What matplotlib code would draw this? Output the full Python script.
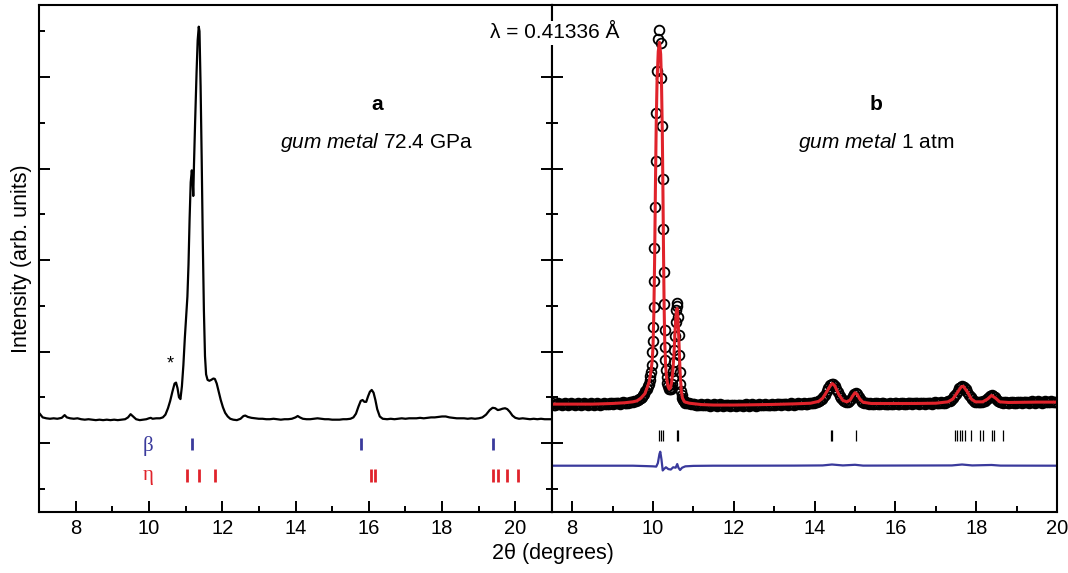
import matplotlib
matplotlib.use("Agg")
import matplotlib.pyplot as plt
from matplotlib.ticker import MultipleLocator, NullFormatter

plt.rcParams['font.family'] = ['Liberation Sans', 'DejaVu Sans']
plt.rcParams['mathtext.fontset'] = 'custom'
plt.rcParams['mathtext.rm'] = 'Liberation Sans'
plt.rcParams['mathtext.it'] = 'Liberation Sans:italic'
plt.rcParams['mathtext.bf'] = 'Liberation Sans:bold'

# ---------------- panel a: gum metal 72.4 GPa ----------------
a_x = [7.00, 7.10, 7.20, 7.30, 7.40, 7.50, 7.62, 7.70, 7.76, 7.85, 7.95, 8.05, 8.15, 8.25,
       8.35, 8.45, 8.55, 8.65, 8.75, 8.85, 8.95, 9.05, 9.15, 9.25, 9.35, 9.43, 9.50, 9.57,
       9.65, 9.75, 9.85, 9.93, 10.00, 10.05, 10.10, 10.20, 10.30, 10.38, 10.45, 10.52, 10.58,
       10.64, 10.70, 10.74, 10.78, 10.82, 10.86, 10.90, 10.94, 10.98, 11.02, 11.05, 11.08,
       11.11, 11.14, 11.17, 11.19, 11.21, 11.23, 11.26, 11.30, 11.33, 11.36, 11.38, 11.41,
       11.44, 11.47, 11.50, 11.53, 11.56, 11.60, 11.65, 11.70, 11.76, 11.80, 11.85, 11.90,
       11.96, 12.02, 12.08, 12.15, 12.22, 12.30, 12.40, 12.50, 12.58, 12.63, 12.70, 12.80,
       12.90, 13.00, 13.10, 13.20, 13.30, 13.40, 13.50, 13.60, 13.70, 13.80, 13.90, 14.00,
       14.06, 14.12, 14.20, 14.30, 14.40, 14.50, 14.60, 14.70, 14.80, 14.90, 15.00, 15.10,
       15.20, 15.30, 15.40, 15.50, 15.58, 15.65, 15.72, 15.78, 15.83, 15.88, 15.93, 15.98,
       16.03, 16.08, 16.13, 16.18, 16.23, 16.30, 16.38, 16.50, 16.60, 16.70, 16.80, 16.90,
       17.00, 17.10, 17.20, 17.30, 17.40, 17.50, 17.60, 17.70, 17.80, 17.90, 18.00, 18.10,
       18.20, 18.30, 18.40, 18.50, 18.60, 18.70, 18.80, 18.90, 19.00, 19.10, 19.20, 19.30,
       19.38, 19.45, 19.52, 19.58, 19.65, 19.72, 19.78, 19.85, 19.92, 20.00, 20.10, 20.20,
       20.30, 20.40, 20.50, 20.60, 20.70, 20.80, 20.90, 21.00]
a_y = [1.33, 1.28, 1.27, 1.265, 1.27, 1.265, 1.275, 1.305, 1.28, 1.27, 1.265, 1.27, 1.26, 1.255,
       1.26, 1.255, 1.25, 1.255, 1.25, 1.255, 1.25, 1.255, 1.25, 1.255, 1.26, 1.28, 1.315, 1.29,
       1.26, 1.25, 1.255, 1.26, 1.27, 1.275, 1.265, 1.27, 1.27, 1.28, 1.31, 1.38, 1.46,
       1.56, 1.65, 1.66, 1.60, 1.50, 1.48, 1.62, 1.85, 2.15, 2.40, 2.60, 2.95,
       3.45, 3.85, 3.98, 3.90, 3.70, 4.05, 4.50, 5.05, 5.40, 5.55, 5.50, 4.90,
       4.10, 3.20, 2.45, 1.95, 1.75, 1.69, 1.68, 1.69, 1.705, 1.70, 1.65, 1.57,
       1.47, 1.39, 1.33, 1.29, 1.265, 1.255, 1.25, 1.265, 1.295, 1.30, 1.285, 1.275,
       1.27, 1.265, 1.265, 1.26, 1.26, 1.265, 1.26, 1.255, 1.26, 1.26, 1.265, 1.28,
       1.295, 1.28, 1.265, 1.26, 1.26, 1.265, 1.27, 1.265, 1.26, 1.26, 1.255, 1.255,
       1.255, 1.26, 1.26, 1.265, 1.28, 1.32, 1.40, 1.46, 1.47, 1.45, 1.45, 1.51,
       1.56, 1.58, 1.55, 1.47, 1.37, 1.29, 1.265, 1.26, 1.265, 1.26, 1.265, 1.27,
       1.265, 1.27, 1.27, 1.27, 1.275, 1.27, 1.275, 1.28, 1.28, 1.285, 1.29, 1.29,
       1.28, 1.275, 1.27, 1.27, 1.27, 1.265, 1.27, 1.265, 1.27, 1.28, 1.31, 1.36,
       1.385, 1.38, 1.36, 1.365, 1.375, 1.38, 1.37, 1.34, 1.30, 1.275, 1.265, 1.27,
       1.265, 1.26, 1.265, 1.26, 1.265, 1.26, 1.26, 1.26]

beta_pos = [11.17, 15.80, 19.40]
eta_pos = [11.05, 11.38, 11.80, 16.05, 16.18, 19.40, 19.53, 19.76, 20.06]

# ---------------- panel b: gum metal 1 atm (observed points) ----------------
obs_x = [
    7.50, 7.54, 7.58, 7.62, 7.66, 7.70, 7.74, 7.78, 7.82, 7.86,
    7.90, 7.94, 7.98, 8.02, 8.06, 8.10, 8.14, 8.18, 8.22, 8.26,
    8.30, 8.34, 8.38, 8.42, 8.46, 8.50, 8.54, 8.58, 8.62, 8.66,
    8.70, 8.74, 8.78, 8.82, 8.86, 8.90, 8.94, 8.98, 9.02, 9.06,
    9.10, 9.14, 9.18, 9.22, 9.26, 9.30, 9.34, 9.38, 9.42, 9.46,
    9.50, 9.54, 9.58, 9.62, 9.66, 9.70,
    9.72, 9.75, 9.78, 9.81, 9.84, 9.87, 9.895, 9.915, 9.935, 9.955,
    9.970, 9.985, 9.995, 10.005, 10.015, 10.025, 10.035, 10.048, 10.062, 10.080,
    10.100, 10.125, 10.155, 10.190, 10.210, 10.228, 10.242, 10.254, 10.265, 10.275,
    10.285, 10.295, 10.305, 10.318, 10.335, 10.355, 10.375, 10.395, 10.415, 10.435,
    10.455, 10.47, 10.485, 10.50, 10.515, 10.53, 10.545, 10.56, 10.575, 10.59,
    10.605, 10.62, 10.635, 10.65, 10.665, 10.68, 10.695, 10.71, 10.725, 10.74,
    10.76, 10.78, 10.80, 10.83, 10.86,
    10.90, 10.94, 10.98, 11.02, 11.06, 11.10, 11.14, 11.18, 11.22, 11.26,
    11.30, 11.34, 11.38, 11.42, 11.46, 11.50, 11.54, 11.58, 11.62, 11.66,
    11.70, 11.74, 11.78, 11.82, 11.86, 11.90, 11.94, 11.98, 12.02, 12.06,
    12.10, 12.14, 12.18, 12.22, 12.26, 12.30, 12.34, 12.38, 12.42, 12.46,
    12.50, 12.54, 12.58, 12.62, 12.66, 12.70, 12.74, 12.78, 12.82, 12.86,
    12.90, 12.94, 12.98, 13.02, 13.06, 13.10, 13.14, 13.18, 13.22, 13.26,
    13.30, 13.34, 13.38, 13.42, 13.46, 13.50, 13.54, 13.58, 13.62, 13.66,
    13.70, 13.74, 13.78, 13.82, 13.86, 13.90, 13.94, 13.98, 14.02, 14.06,
    14.10, 14.14, 14.18, 14.22, 14.26, 14.30, 14.34, 14.38, 14.42, 14.46,
    14.50, 14.54, 14.58, 14.62, 14.66, 14.70, 14.74, 14.78, 14.82, 14.86,
    14.90, 14.94, 14.98, 15.02, 15.06, 15.10, 15.14, 15.18, 15.22, 15.26,
    15.30, 15.34, 15.38, 15.42, 15.46, 15.50, 15.54, 15.58, 15.62, 15.66,
    15.70, 15.74, 15.78, 15.82, 15.86, 15.90, 15.94, 15.98, 16.02, 16.06,
    16.10, 16.14, 16.18, 16.22, 16.26, 16.30, 16.34, 16.38, 16.42, 16.46,
    16.50, 16.54, 16.58, 16.62, 16.66, 16.70, 16.74, 16.78, 16.82, 16.86,
    16.90, 16.94, 16.98, 17.02, 17.06, 17.10, 17.14, 17.18, 17.22, 17.26,
    17.30, 17.34, 17.38, 17.42, 17.46, 17.50, 17.54, 17.58, 17.62, 17.66,
    17.70, 17.74, 17.78, 17.82, 17.86, 17.90, 17.94, 17.98, 18.02, 18.06,
    18.10, 18.14, 18.18, 18.22, 18.26, 18.30, 18.34, 18.38, 18.42, 18.46,
    18.50, 18.54, 18.58, 18.62, 18.66, 18.70, 18.74, 18.78, 18.82, 18.86,
    18.90, 18.94, 18.98, 19.02, 19.06, 19.10, 19.14, 19.18, 19.22, 19.26,
    19.30, 19.34, 19.38, 19.42, 19.46, 19.50, 19.54, 19.58, 19.62, 19.66,
    19.70, 19.74, 19.78, 19.82, 19.86, 19.90, 19.94, 19.98]
obs_y = [
    1.432, 1.420, 1.415, 1.428, 1.436, 1.424, 1.418, 1.430, 1.438, 1.426,
    1.418, 1.422, 1.433, 1.428, 1.417, 1.423, 1.435, 1.429, 1.419, 1.425,
    1.434, 1.422, 1.416, 1.427, 1.437, 1.428, 1.420, 1.426, 1.433, 1.424,
    1.418, 1.429, 1.438, 1.430, 1.422, 1.428, 1.436, 1.432, 1.425, 1.433,
    1.440, 1.434, 1.428, 1.436, 1.443, 1.438, 1.435, 1.442, 1.448, 1.446,
    1.452, 1.458, 1.463, 1.468, 1.478, 1.490,
    1.50, 1.52, 1.54, 1.565, 1.59, 1.62, 1.65, 1.69, 1.73, 1.78,
    1.85, 1.99, 2.11, 2.27, 2.49, 2.77, 3.13, 3.58, 4.08, 4.61,
    5.07, 5.41, 5.51, 5.37, 4.99, 4.46, 3.88, 3.34, 2.87, 2.52,
    2.24, 2.05, 1.91, 1.80, 1.72, 1.66, 1.62, 1.595, 1.585, 1.59,
    1.61, 1.65, 1.71, 1.79, 1.89, 2.02, 2.17, 2.32, 2.45, 2.53,
    2.50, 2.38, 2.18, 1.96, 1.78, 1.65, 1.57, 1.52, 1.49, 1.47,
    1.455, 1.447, 1.442, 1.438, 1.436,
    1.436, 1.430, 1.424, 1.428, 1.418, 1.412, 1.420, 1.426, 1.416, 1.410,
    1.418, 1.425, 1.415, 1.408, 1.416, 1.422, 1.412, 1.406, 1.414, 1.421,
    1.413, 1.407, 1.415, 1.420, 1.410, 1.404, 1.412, 1.419, 1.411, 1.405,
    1.413, 1.420, 1.412, 1.406, 1.414, 1.421, 1.414, 1.408, 1.416, 1.423,
    1.415, 1.409, 1.417, 1.424, 1.416, 1.411, 1.419, 1.426, 1.418, 1.412,
    1.420, 1.427, 1.419, 1.414, 1.422, 1.429, 1.421, 1.416, 1.424, 1.431,
    1.423, 1.418, 1.426, 1.433, 1.425, 1.420, 1.428, 1.435, 1.427, 1.422,
    1.430, 1.437, 1.429, 1.425, 1.433, 1.440, 1.436, 1.438, 1.445, 1.450,
    1.458, 1.468, 1.482, 1.502, 1.530, 1.565, 1.600, 1.630, 1.650, 1.648,
    1.628, 1.595, 1.555, 1.518, 1.488, 1.466, 1.454, 1.450, 1.452, 1.462,
    1.482, 1.512, 1.540, 1.550, 1.532, 1.500, 1.470, 1.452, 1.442, 1.438,
    1.432, 1.428, 1.436, 1.430, 1.425, 1.433, 1.438, 1.429, 1.424, 1.432,
    1.437, 1.428, 1.423, 1.431, 1.437, 1.429, 1.424, 1.432, 1.438, 1.430,
    1.425, 1.433, 1.439, 1.431, 1.426, 1.434, 1.440, 1.432, 1.427, 1.435,
    1.440, 1.432, 1.427, 1.435, 1.441, 1.433, 1.428, 1.436, 1.442, 1.434,
    1.429, 1.437, 1.443, 1.436, 1.432, 1.440, 1.446, 1.442, 1.440, 1.448,
    1.455, 1.462, 1.472, 1.488, 1.510, 1.540, 1.572, 1.598, 1.615, 1.620,
    1.612, 1.592, 1.562, 1.530, 1.500, 1.478, 1.462, 1.452, 1.448, 1.446,
    1.450, 1.448, 1.455, 1.462, 1.476, 1.495, 1.512, 1.522, 1.515, 1.498,
    1.478, 1.462, 1.452, 1.446, 1.440, 1.444, 1.449, 1.441, 1.436, 1.444,
    1.450, 1.442, 1.437, 1.445, 1.451, 1.443, 1.438, 1.446, 1.452, 1.444,
    1.440, 1.448, 1.454, 1.446, 1.441, 1.449, 1.455, 1.447, 1.442, 1.450,
    1.456, 1.448, 1.443, 1.451, 1.457, 1.449, 1.444, 1.452]

# calculated profile
calc_x = [7.5, 8.0, 8.5, 9.0, 9.3, 9.5, 9.6, 9.7, 9.8, 9.9, 9.95, 9.98, 10.0, 10.02, 10.04,
          10.06, 10.08, 10.10, 10.13, 10.16, 10.19, 10.21, 10.23, 10.245, 10.26, 10.275,
          10.29, 10.31, 10.335, 10.37, 10.40, 10.43, 10.46, 10.49, 10.52, 10.55, 10.575,
          10.595, 10.615, 10.64, 10.67, 10.70, 10.73, 10.78, 10.9, 11.2, 11.5, 12.0, 12.5,
          13.0, 13.5, 13.9, 14.1, 14.2, 14.3, 14.4, 14.44, 14.5, 14.6, 14.7, 14.8, 14.88,
          14.95, 15.0, 15.05, 15.12, 15.2, 15.4, 16.0, 16.5, 17.0, 17.3, 17.42, 17.53, 17.63,
          17.68, 17.78, 17.88, 17.98, 18.16, 18.28, 18.38, 18.48, 18.58, 18.8, 19.5, 20.0]
calc_y = [1.425, 1.425, 1.425, 1.432, 1.44, 1.45, 1.46, 1.49, 1.54, 1.66, 1.78, 1.90, 2.05, 2.40, 3.00,
          3.80, 4.50, 4.95, 5.28, 5.38, 5.25, 4.95, 4.40, 3.80, 3.10, 2.50,
          2.12, 1.86, 1.72, 1.62, 1.59, 1.60, 1.66, 1.78, 1.98, 2.26, 2.43,
          2.47, 2.38, 2.13, 1.78, 1.57, 1.49, 1.45, 1.435, 1.42, 1.415, 1.415, 1.418,
          1.422, 1.428, 1.435, 1.455, 1.49, 1.56, 1.635, 1.65, 1.625, 1.53, 1.465, 1.45, 1.47,
          1.52, 1.55, 1.535, 1.48, 1.445, 1.432, 1.432, 1.432, 1.435, 1.45, 1.48, 1.55, 1.615,
          1.62, 1.56, 1.48, 1.45, 1.45, 1.48, 1.52, 1.49, 1.45, 1.443, 1.447, 1.447]

# difference curve
diff_x = [7.5, 8.5, 9.5, 9.8, 10.0, 10.08, 10.12, 10.16, 10.18, 10.21, 10.24, 10.27, 10.32,
          10.38, 10.44, 10.5, 10.56, 10.6, 10.63, 10.67, 10.72, 10.8, 11.0, 11.5, 12.0, 13.5,
          14.2, 14.43, 14.7, 15.0, 15.2, 17.4, 17.65, 17.9, 18.38, 18.6, 20.0]
diff_y = [0.752, 0.752, 0.752, 0.748, 0.745, 0.742, 0.78, 0.88, 0.905, 0.82, 0.70, 0.715, 0.735,
          0.715, 0.71, 0.735, 0.73, 0.77, 0.73, 0.705, 0.73, 0.745, 0.75, 0.752, 0.752, 0.753,
          0.755, 0.765, 0.755, 0.762, 0.753, 0.755, 0.765, 0.755, 0.76, 0.753, 0.752]

refl_pos = [10.14, 10.19, 10.24, 10.60, 10.63, 14.40, 14.44, 15.02, 17.47, 17.53, 17.60,
            17.66, 17.73, 17.86, 18.09, 18.17, 18.38, 18.44, 18.67]

BLUE = '#3a3a9c'
RED = '#e0232b'

fig = plt.figure(figsize=(10.68, 5.73), dpi=100)
W, H = 1068.0, 573.0
ax1 = fig.add_axes([39 / W, 61 / H, 513 / W, 507 / H])
ax2 = fig.add_axes([552 / W, 61 / H, 505 / W, 507 / H])

ylim = (0.246, 5.787)

# panel a
ax1.plot(a_x, a_y, color='black', lw=1.6)
ax1.vlines(beta_pos, 0.92, 1.06, color=BLUE, lw=2.0)
ax1.vlines(eta_pos, 0.575, 0.715, color=RED, lw=2.0)
ax1.text(9.97, 0.97, 'β', color=BLUE, fontsize=15, family=['Liberation Serif'],
         ha='center', va='center')
ax1.text(9.97, 0.64, 'η', color=RED, fontsize=15, family=['Liberation Serif'],
         ha='center', va='center')
ax1.text(10.58, 1.86, '*', fontsize=13, ha='center', va='center')
ax1.text(16.22, 4.70, 'a', fontsize=15, fontweight='bold', ha='center', va='center')
ax1.text(16.22, 4.28, r'$\mathit{gum\ metal}$ 72.4 GPa', fontsize=15, ha='center', va='center')
ax1.set_xlim(7, 21)
ax1.set_ylim(*ylim)

# panel b
ax2.plot(obs_x, obs_y, 'o', mfc='none', mec='black', ms=7, mew=1.3)
ax2.plot(calc_x, calc_y, color=RED, lw=2.2)
ax2.plot(diff_x, diff_y, color=BLUE, lw=1.6)
ax2.vlines(refl_pos, 1.02, 1.14, color='black', lw=0.9)
ax2.text(15.52, 4.70, 'b', fontsize=15, fontweight='bold', ha='center', va='center')
ax2.text(15.52, 4.28, r'$\mathit{gum\ metal}$ 1 atm', fontsize=15, ha='center', va='center')
ax2.set_xlim(7.5, 20)
ax2.set_ylim(*ylim)

for ax in (ax1, ax2):
    for sp in ax.spines.values():
        sp.set_linewidth(1.5)
    ax.xaxis.set_major_locator(MultipleLocator(2))
    ax.xaxis.set_minor_locator(MultipleLocator(1))
    ax.yaxis.set_major_locator(MultipleLocator(1))
    ax.yaxis.set_minor_locator(MultipleLocator(0.5))
    ax.tick_params(which='both', direction='in', width=1.4, top=False, labelsize=14.5, pad=5)
    ax.tick_params(which='major', length=8)
    ax.tick_params(which='minor', length=4)
    ax.yaxis.set_major_formatter(NullFormatter())

ax1.tick_params(axis='y', which='both', left=True, right=True, labelleft=False)
ax2.tick_params(axis='y', which='both', left=True, right=False, labelleft=False)

ax1.set_ylabel('Intensity (arb. units)', fontsize=15.5, labelpad=5)

fig.text(553 / W, 1 - 553 / H, '2θ (degrees)', fontsize=15.5, ha='center', va='center')
fig.text(555 / W, 1 - 33 / H, 'λ = 0.41336 Å', fontsize=15, ha='center', va='center',
         bbox=dict(facecolor='white', edgecolor='none', pad=2))

fig.savefig('out.png', dpi=100)
